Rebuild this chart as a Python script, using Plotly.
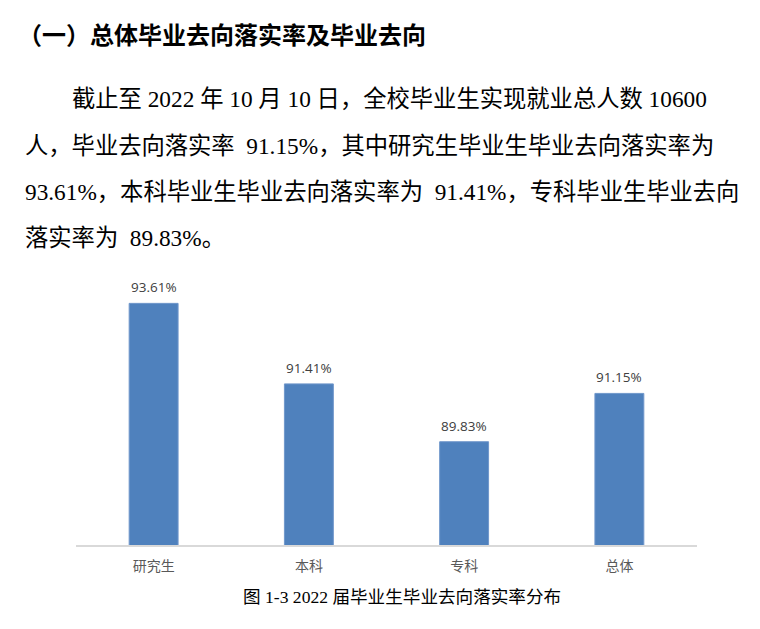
import plotly.graph_objects as go

# ---- data ----
categories = ["研究生", "本科", "专科", "总体"]
rates = [93.61, 91.41, 89.83, 91.15]
value_labels = ["93.61%", "91.41%", "89.83%", "91.15%"]

heading = "（一）总体毕业去向落实率及毕业去向"
para_lines = [
    "截止至 2022 年 10 月 10 日，全校毕业生实现就业总人数 10600",
    "人，毕业去向落实率\u200291.15%，其中研究生毕业生毕业去向落实率为",
    "93.61%，本科毕业生毕业去向落实率为\u200291.41%，专科毕业生毕业去向",
    "落实率为\u200289.83%。",
]
caption = "图 1-3 2022 届毕业生毕业去向落实率分布"

W, H = 760, 629
CJK = "Noto Sans CJK SC"
SERIF = "'Liberation Serif', 'Noto Sans CJK SC'"


def px(x):
    return x / W


def py(y):
    return 1 - y / H


fig = go.Figure()
fig.add_trace(go.Bar(
    x=categories,
    y=rates,
    width=0.315,
    marker=dict(color="#4F81BD", line=dict(color="#7097CB", width=1)),
    hoverinfo="skip",
))

annotations = []
# data labels
for c, v, t in zip(categories, rates, value_labels):
    annotations.append(dict(
        x=c, y=v, xref="x", yref="y", text=t, showarrow=False,
        yshift=16, yanchor="middle", xanchor="center",
        font=dict(family="Open Sans, " + CJK, size=13.5, color="#404040"),
    ))

# heading
annotations.append(dict(
    x=px(16), y=py(33), xref="paper", yref="paper", text="<b>" + heading + "</b>",
    showarrow=False, xanchor="left", yanchor="middle",
    font=dict(family=CJK, size=24, color="#000000"),
))

# paragraph
line_y = [99, 145.5, 192, 237.5]
line_x = [70, 23, 23, 23]
for t, lx, ly in zip(para_lines, line_x, line_y):
    annotations.append(dict(
        x=px(lx), y=py(ly), xref="paper", yref="paper", text=t,
        showarrow=False, xanchor="left", yanchor="middle",
        font=dict(family=SERIF, size=23.3, color="#000000"),
    ))

# caption
annotations.append(dict(
    x=px(401.7), y=py(597), xref="paper", yref="paper", text=caption,
    showarrow=False, xanchor="center", yanchor="middle",
    font=dict(family=SERIF, size=17.6, color="#000000"),
))

fig.update_layout(
    width=W, height=H,
    margin=dict(l=0, r=0, t=0, b=0),
    paper_bgcolor="#FFFFFF",
    plot_bgcolor="#FFFFFF",
    showlegend=False,
    annotations=annotations,
    xaxis=dict(
        domain=[px(76), px(697)],
        range=[-0.5, 3.5],
        showline=True, linecolor="#D9D9D9", linewidth=2,
        showgrid=False, zeroline=False,
        ticks="", ticklabelstandoff=7,
        tickfont=dict(family=CJK, size=14, color="#595959"),
    ),
    yaxis=dict(
        domain=[py(545.3), py(285)],
        range=[87, 87 + 260.3 / 36.6],
        visible=False, showgrid=False, zeroline=False,
    ),
)

fig.write_html(
    "out.html",
    config={"displayModeBar": False},
    post_script="document.body.style.margin='0';document.body.style.overflow='hidden';",
)
